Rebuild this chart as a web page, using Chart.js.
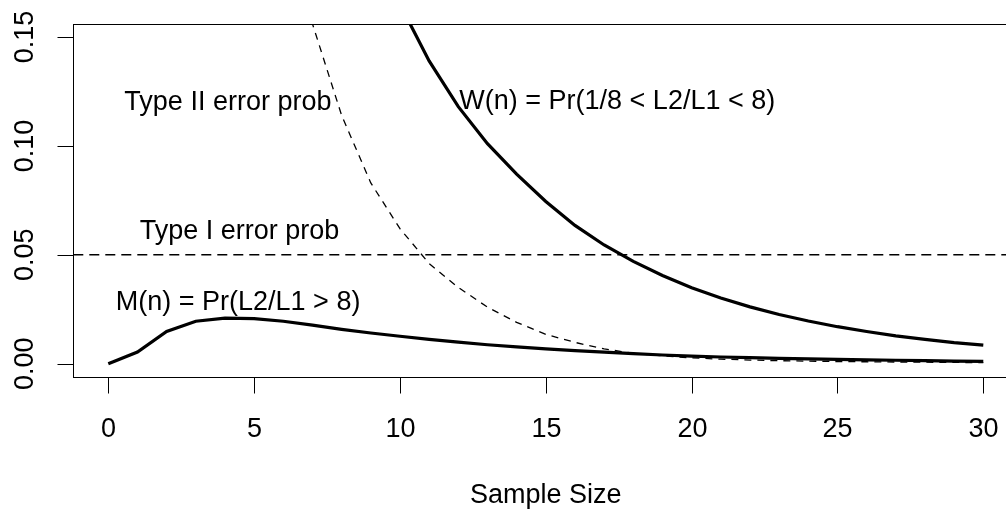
<!DOCTYPE html>
<html>
<head>
<meta charset="utf-8">
<script src="https://cdn.jsdelivr.net/npm/chart.js@4/dist/chart.umd.min.js"></script>
<style>
  html, body { margin: 0; padding: 0; background: #fff; overflow: hidden; }
  canvas { display: block; }
</style>
</head>
<body>
<canvas id="chart" width="1020" height="510"></canvas>
<script>
// sample sizes n = 0..30
const sampleSize = [0, 1, 2, 3, 4, 5, 6, 7, 8, 9, 10, 11, 12, 13, 14, 15, 16, 17, 18, 19, 20,
                    21, 22, 23, 24, 25, 26, 27, 28, 29, 30];

// M(n) = Pr(L2/L1 > 8)
const misleadProb = [0, 0.0054, 0.0148, 0.0195, 0.0209, 0.0207, 0.0195, 0.0177, 0.0158, 0.0141,
                     0.0126, 0.0112, 0.0099, 0.0087, 0.0077, 0.0068, 0.0060, 0.0053, 0.0046, 0.0040,
                     0.0035, 0.0031, 0.0028, 0.0025, 0.0022, 0.0020, 0.0018, 0.0016, 0.0014, 0.0012, 0.0011];

// W(n) = Pr(1/8 < L2/L1 < 8)
const weakProb = [null, null, null, null, null, null, null, null, 0.23, 0.195,
                  0.165, 0.139, 0.118, 0.101, 0.087, 0.0745, 0.0635, 0.0545, 0.047, 0.0405,
                  0.0349, 0.0302, 0.0261, 0.0226, 0.0196, 0.0170, 0.0148, 0.0128, 0.0112, 0.0097, 0.0085];

// Type II error probability
const typeIIProb = [null, null, null, null, null, 0.28, 0.21, 0.156, 0.114, 0.083,
                    0.062, 0.046, 0.035, 0.026, 0.019, 0.0135, 0.0098, 0.0068, 0.0048, 0.0036,
                    0.0027, 0.0021, 0.0017, 0.0014, 0.0012, 0.0010, 0.0009, 0.0008, 0.0007, 0.0006, 0.0005];

// Type I error level
const typeIProb = 0.05;

const xTicks = [0, 5, 10, 15, 20, 25, 30];
const yTicks = [0, 0.05, 0.10, 0.15];
const yTickLabels = ['0.00', '0.05', '0.10', '0.15'];
const xTitle = 'Sample Size';

// text labels placed in data coordinates
const notes = [
    { text: 'Type II error prob', x: 4.1, y: 0.121 },
    { text: 'Type I error prob', x: 4.5, y: 0.0615 },
    { text: 'M(n) = Pr(L2/L1 > 8)', x: 4.45, y: 0.0292 },
    { text: 'W(n) = Pr(1/8 < L2/L1 < 8)', x: 17.45, y: 0.1214 }
];

const X_MIN = -1.2, X_MAX = 31.2, Y_MIN = -0.006, Y_MAX = 0.156;
const FONT = '27px "Liberation Sans", Arial, Helvetica, sans-serif';

function toPoints(values) {
    return sampleSize.map((n, i) => ({ x: n, y: values[i] }));
}

const rAxes = {
    id: 'rAxes',
    afterDraw(chart) {
        const ctx = chart.ctx;
        const a = chart.chartArea;
        const xs = chart.scales.x, ys = chart.scales.y;
        ctx.save();
        ctx.strokeStyle = '#000';
        ctx.fillStyle = '#000';
        ctx.lineWidth = 1;
        ctx.setLineDash([]);

        const L = Math.round(a.left) + 0.5, R = Math.round(a.right) + 0.5;
        const T = Math.round(a.top) + 0.5, B = Math.round(a.bottom) + 0.5;
        ctx.strokeRect(L, T, R - L, B - T);

        ctx.font = FONT;
        ctx.textAlign = 'center';
        ctx.textBaseline = 'alphabetic';

        // x axis
        xTicks.forEach(t => {
            const px = Math.round(xs.getPixelForValue(t)) + 0.5;
            ctx.beginPath();
            ctx.moveTo(px, B);
            ctx.lineTo(px, B + 16);
            ctx.stroke();
            ctx.fillText(String(t), px, a.bottom + 60.5);
        });

        // y axis
        yTicks.forEach((t, i) => {
            const py = Math.round(ys.getPixelForValue(t)) + 0.5;
            ctx.beginPath();
            ctx.moveTo(L, py);
            ctx.lineTo(L - 16, py);
            ctx.stroke();
            ctx.save();
            ctx.translate(a.left - 40, ys.getPixelForValue(t));
            ctx.rotate(-Math.PI / 2);
            ctx.fillText(yTickLabels[i], 0, 0);
            ctx.restore();
        });

        ctx.fillText(xTitle, (a.left + a.right) / 2, a.bottom + 126.5);

        notes.forEach(n => {
            ctx.fillText(n.text, xs.getPixelForValue(n.x), ys.getPixelForValue(n.y) + 9.7);
        });
        ctx.restore();
    }
};

new Chart(document.getElementById('chart'), {
    type: 'line',
    data: {
        datasets: [
            {
                label: 'M(n)',
                data: toPoints(misleadProb),
                borderColor: '#000',
                borderWidth: 3.2,
                pointRadius: 0,
                tension: 0
            },
            {
                label: 'W(n)',
                data: toPoints(weakProb),
                borderColor: '#000',
                borderWidth: 3.2,
                pointRadius: 0,
                tension: 0
            },
            {
                label: 'Type II',
                data: toPoints(typeIIProb),
                borderColor: '#000',
                borderWidth: 1.3,
                borderDash: [7, 6],
                pointRadius: 0,
                tension: 0
            },
            {
                label: 'Type I',
                data: [{ x: X_MIN, y: typeIProb }, { x: X_MAX, y: typeIProb }],
                borderColor: '#000',
                borderWidth: 1.5,
                borderDash: [10, 6],
                pointRadius: 0,
                tension: 0
            }
        ]
    },
    options: {
        responsive: false,
        animation: false,
        devicePixelRatio: 1,
        layout: { padding: { left: 73.3, right: 1.7, top: 23.9, bottom: 133.2 } },
        plugins: { legend: { display: false }, tooltip: { enabled: false } },
        scales: {
            x: { type: 'linear', min: X_MIN, max: X_MAX, display: false },
            y: { type: 'linear', min: Y_MIN, max: Y_MAX, display: false }
        }
    },
    plugins: [rAxes]
});
</script>
</body>
</html>
